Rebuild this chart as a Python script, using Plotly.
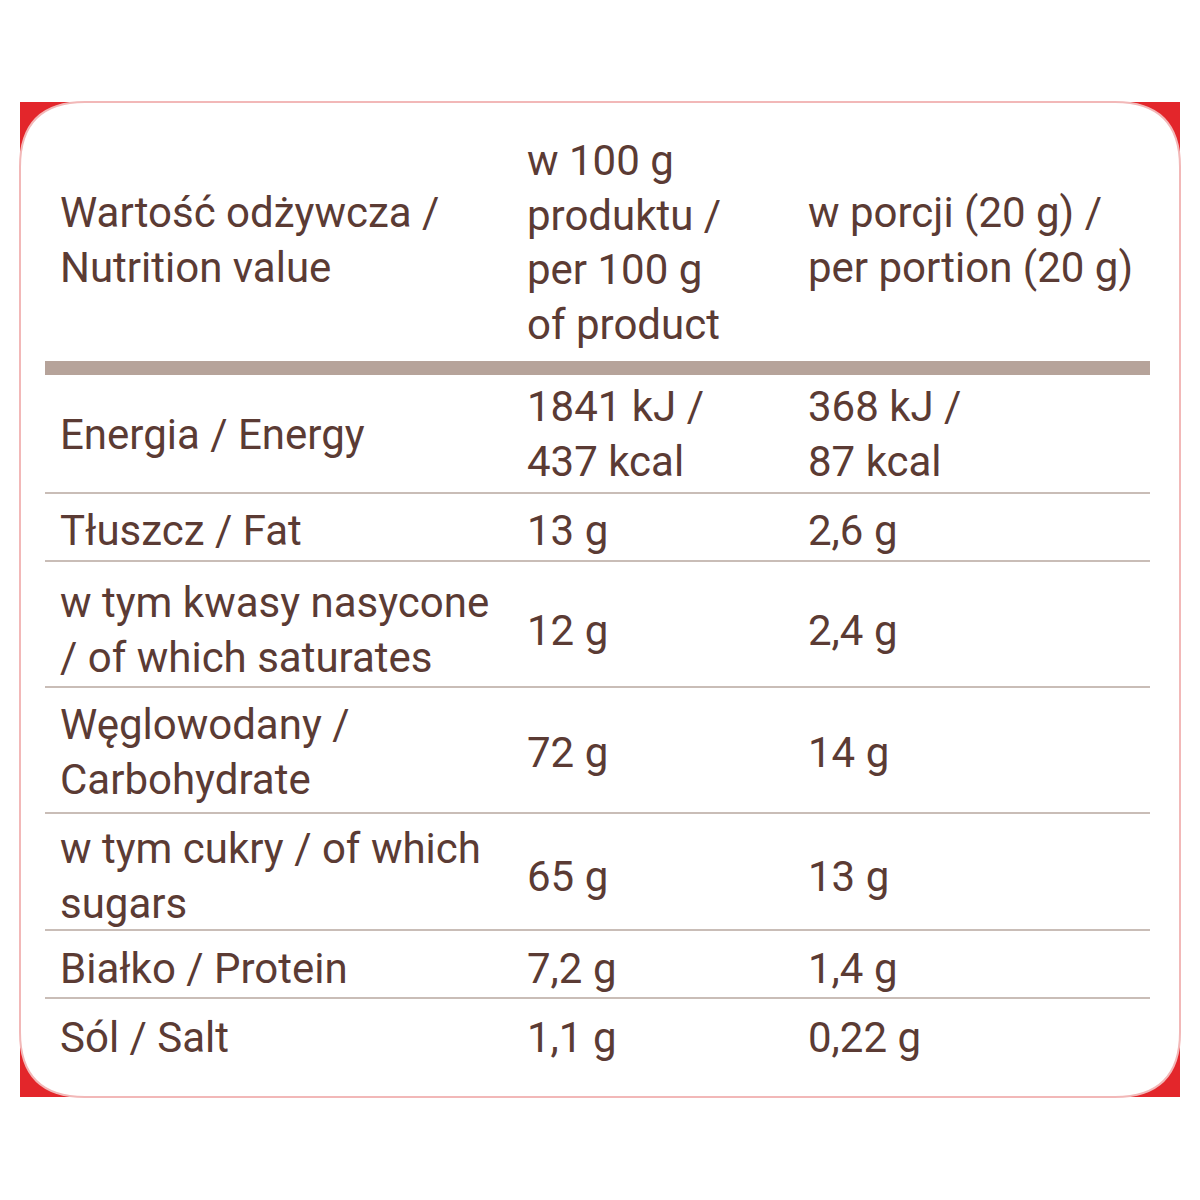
import plotly.graph_objects as go

# table content
header = ["Wartość odżywcza /<br>Nutrition value",
          "w 100 g<br>produktu /<br>per 100 g<br>of product",
          "w porcji (20 g) /<br>per portion (20 g)"]
names = ["Energia / Energy", "Tłuszcz / Fat",
         "w tym kwasy nasycone<br>/ of which saturates",
         "Węglowodany /<br>Carbohydrate",
         "w tym cukry / of which<br>sugars",
         "Białko / Protein", "Sól / Salt"]
per100 = ["1841 kJ /<br>437 kcal", "13 g", "12 g", "72 g", "65 g", "7,2 g", "1,1 g"]
perPortion = ["368 kJ /<br>87 kcal", "2,6 g", "2,4 g", "14 g", "13 g", "1,4 g", "0,22 g"]

rowCenters = [434, 530, 630, 752, 876, 968, 1037]
rowLines = [493, 561, 687, 813, 930, 998]
colX = [58, 525, 806]

brown = "#5b3b34"
font = dict(family="Roboto", size=42, color=brown)

fig = go.Figure()
fig.add_trace(go.Scatter(x=[600], y=[600], mode="markers", marker=dict(opacity=0), showlegend=False))

# red background and white rounded panel
fig.add_shape(type="rect", x0=20, x1=1180, y0=102, y1=1097, fillcolor="#e3262b", line_width=0, layer="below")
r = 65
x0, x1, y0, y1 = 20, 1180, 102, 1097
path = (f"M {x0+r},{y0} L {x1-r},{y0} Q {x1},{y0} {x1},{y0+r} L {x1},{y1-r} Q {x1},{y1} {x1-r},{y1} "
        f"L {x0+r},{y1} Q {x0},{y1} {x0},{y1-r} L {x0},{y0+r} Q {x0},{y0} {x0+r},{y0} Z")
fig.add_shape(type="path", path=path, fillcolor="white", line=dict(color="#f2b8b8", width=2), layer="below")

# header separator and row lines
fig.add_shape(type="line", x0=45, x1=1150, y0=368, y1=368, line=dict(color="#b6a39a", width=14))
for yl in rowLines:
    fig.add_shape(type="line", x0=45, x1=1150, y0=yl, y1=yl, line=dict(color="#c9bdb7", width=2))

headerY = [240, 242, 240]
for i, h in enumerate(header):
    fig.add_annotation(x=colX[i], y=headerY[i], text=h, showarrow=False, xanchor="left",
                       yanchor="middle", align="left", font=font)

for i in range(len(names)):
    for j, col in enumerate([names, per100, perPortion]):
        fig.add_annotation(x=colX[j], y=rowCenters[i], text=col[i], showarrow=False, xanchor="left",
                           yanchor="middle", align="left", font=font)

# page adds an 8px body margin, so the view is shifted to compensate
fig.update_layout(width=1200, height=1200, margin=dict(l=0, r=0, t=0, b=0),
                  plot_bgcolor="white", paper_bgcolor="white",
                  xaxis=dict(range=[8, 1208], visible=False),
                  yaxis=dict(range=[1208, 8], visible=False))
fig.write_html("out.html")
